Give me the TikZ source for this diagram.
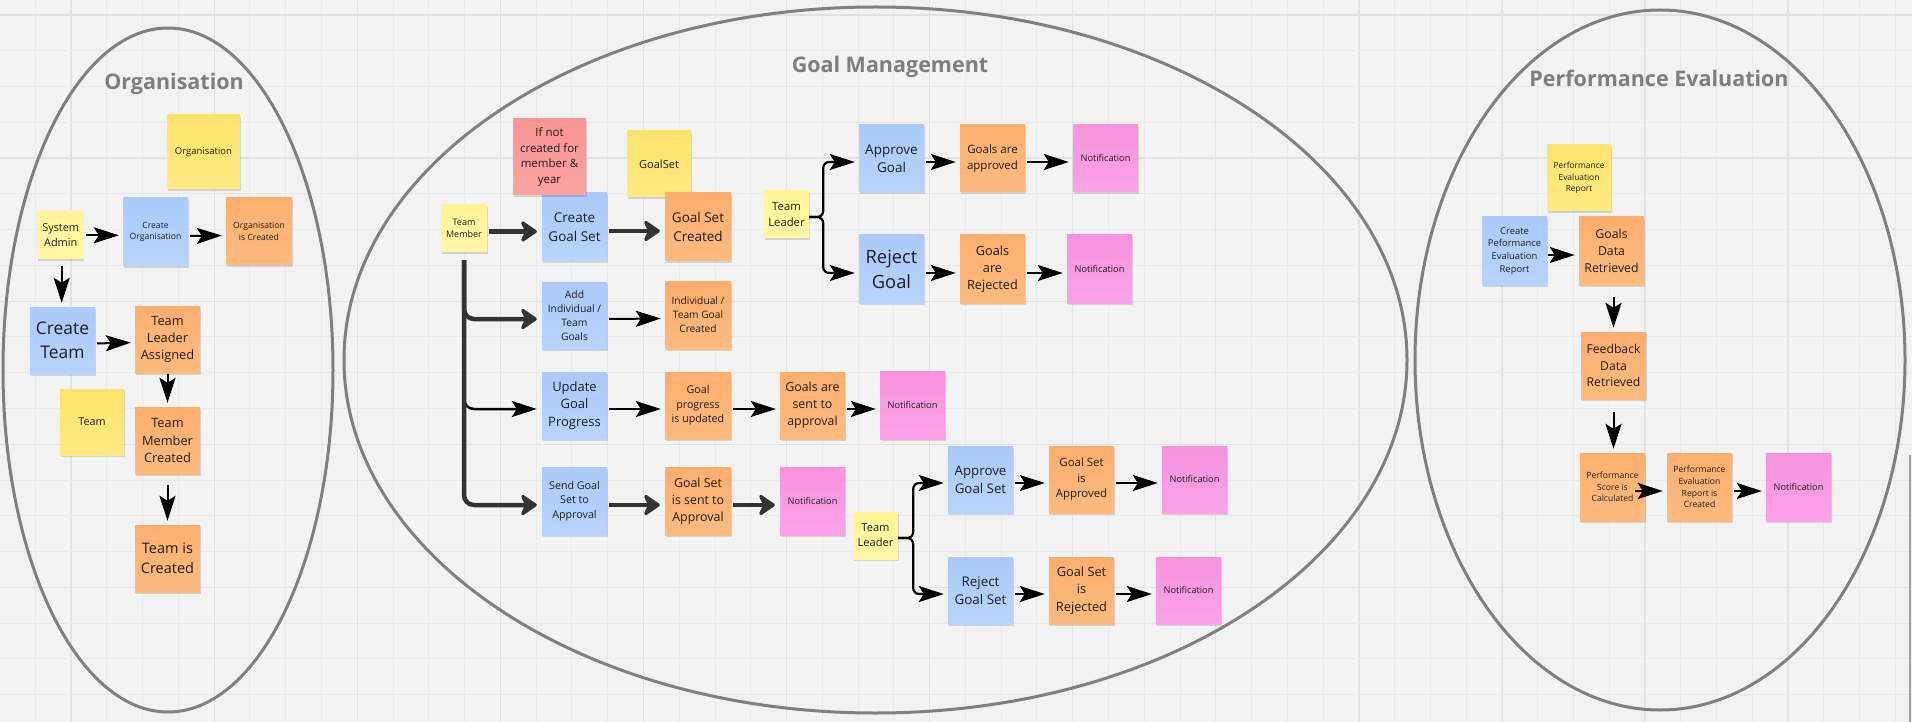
\documentclass[tikz,border=0pt]{standalone}
\usepackage{fontspec}
\setmainfont{Open Sans}
\usetikzlibrary{arrows.meta,shadows}
\definecolor{bg}{HTML}{F2F2F2}
\definecolor{gridminor}{HTML}{E9E9E9}
\definecolor{gridmajor}{HTML}{E1E1E1}
\definecolor{ellc}{HTML}{808080}
\definecolor{titlec}{HTML}{7E7E7E}
\definecolor{txt}{HTML}{1E1E1E}
\definecolor{dk}{HTML}{333333}
\definecolor{orT}{HTML}{FCAE6C}\definecolor{orB}{HTML}{FDBB7F}
\definecolor{blT}{HTML}{AACAFB}\definecolor{blB}{HTML}{B6D4FD}
\definecolor{yeT}{HTML}{FCE36B}\definecolor{yeB}{HTML}{FEEA82}
\definecolor{lyT}{HTML}{FFF395}\definecolor{lyB}{HTML}{FFF7A6}
\definecolor{piT}{HTML}{F792DE}\definecolor{piB}{HTML}{FBA3E8}
\definecolor{reT}{HTML}{F99494}\definecolor{reB}{HTML}{FBA2A2}
\newcommand{\fs}[1]{\fontsize{#1}{\fpeval{#1*1.36}}\selectfont}
\begin{document}
\begin{tikzpicture}[x=1pt,y=-1pt,
  sticky/.style={rectangle, inner sep=0pt, align=center, text=txt,
    minimum width=65, minimum height=67,
    drop shadow={shadow xshift=0.5pt, shadow yshift=-1.8pt, opacity=0.13, fill=black}},
  orbox/.style={sticky, top color=orT, bottom color=orB},
  blbox/.style={sticky, top color=blT, bottom color=blB},
  yebox/.style={sticky, top color=yeT, bottom color=yeB},
  lybox/.style={sticky, top color=lyT, bottom color=lyB, minimum width=46, minimum height=47},
  pibox/.style={sticky, top color=piT, bottom color=piB, font=\fs{9.2}},
  rebox/.style={sticky, top color=reT, bottom color=reB},
  title/.style={anchor=base, text=titlec, font=\fontsize{21.5}{26}\selectfont\bfseries},
  ell/.style={draw=ellc, line width=3pt},
  arr/.style={draw=black, line width=2pt, -{Stealth[length=25pt,width=16pt,inset=5pt]}, shorten <=2pt, shorten >=4pt},
  tarr/.style={draw=dk, line width=4.5pt, -{Stealth[length=19pt,width=26pt,inset=6pt,round]}, shorten <=2pt, shorten >=5pt},
  brace/.style={arr, line width=2.2pt, rounded corners=6pt, shorten <=0pt}
]
\useasboundingbox (0,0) rectangle (1912,722);
\fill[bg] (0,0) rectangle (1912,722);
% grid
\foreach \k in {1,...,53} \draw[gridminor, line width=1pt] ({35.77*\k-0.4},0) -- ({35.77*\k-0.4},722);
\foreach \k in {2,6,...,50} \draw[gridmajor, line width=1.3pt] ({35.77*\k-0.4},0) -- ({35.77*\k-0.4},722);
\foreach \k in {0,...,19} \draw[gridminor, line width=1pt] (0,{15+35.77*\k}) -- (1912,{15+35.77*\k});
\foreach \k in {0,4,...,16} \draw[gridmajor, line width=1.3pt] (0,{15+35.77*\k}) -- (1912,{15+35.77*\k});
\draw[draw=gray!75, line width=2pt] (1910,455) -- (1910,722);

% group ellipses
\draw[ell] (168,370) ellipse [x radius=165, y radius=342];
\draw[ell] (875.5,360) ellipse [x radius=531.5, y radius=353];
\draw[ell] (1660,360) ellipse [x radius=245, y radius=350];
\node[title] (t1) at (174,90) {Organisation};
\node[title] (t2) at (890,73) {Goal Management};
\node[title] (t3) at (1659,87) {Performance Evaluation};

% ---------------- Organisation
\node[yebox, minimum width=73, minimum height=74, font=\fs{9.5}] (orgY) at (203.5,152) {Organisation};
\node[lybox, font=\fs{10.9}] (sysadm) at (60.7,235.3) {System\\Admin};
\node[blbox, minimum height=68, font=\fs{8.6}] (createorg) at (155.5,232) {Create\\Organisation};
\node[orbox, minimum width=66, font=\fs{8.6}] (orgcreated) at (259,231.5) {Organisation\\is Created};
\node[blbox, font=\fs{17.4}] (createteam) at (62.5,340.5) {Create\\Team};
\node[orbox, font=\fs{12.8}] (tla) at (167.5,339.5) {Team\\Leader\\Assigned};
\node[yebox, minimum width=64, minimum height=66, font=\fs{10.8}] (teamY) at (92,422) {Team};
\node[orbox, font=\fs{12.8}] (tmc) at (167.5,440.5) {Team\\Member\\Created};
\node[orbox, font=\fs{14.5}] (tic) at (167.5,558.5) {Team is\\Created};

% ---------------- Goal Management
\node[lybox, font=\fs{9}] (tm) at (464,228.5) {Team\\Member};
\node[blbox, minimum height=68, font=\fs{13.5}] (cgs) at (574.5,227) {Create\\Goal Set};
\node[rebox, minimum width=73, minimum height=76, font=\fs{11.5}] (redY) at (549.5,157) {If not\\created for\\member \&\\year};
\node[yebox, minimum width=64, minimum height=66, font=\fs{11.1}] (goalsetY) at (659,164) {GoalSet};
\node[orbox, minimum width=66, minimum height=68, font=\fs{13.5}] (gsc) at (698,227) {Goal Set\\Created};
\node[blbox, font=\fs{10.3}] (addg) at (574.5,315.5) {Add\\Individual /\\Team\\Goals};
\node[orbox, minimum width=66, minimum height=68, font=\fs{10.2}] (itgc) at (698,315) {Individual /\\Team Goal\\Created};
\node[blbox, font=\fs{13}] (ugp) at (574.5,405.5) {Update\\Goal\\Progress};
\node[orbox, minimum width=66, font=\fs{10.7}] (gpu) at (698,405.5) {Goal\\progress\\is updated};
\node[orbox, font=\fs{12.4}] (gsa) at (812.5,405.5) {Goals are\\sent to\\approval};
\node[pibox, minimum height=68] (n1) at (912.5,405) {Notification};
\node[blbox, minimum height=68, font=\fs{10.7}] (sgs) at (574.5,501) {Send Goal\\Set to\\Approval};
\node[orbox, minimum width=66, minimum height=68, font=\fs{12.4}] (gsst) at (698,501) {Goal Set\\is sent to\\Approval};
\node[pibox, minimum height=68] (n2) at (812.5,501) {Notification};

\node[lybox, minimum width=45, font=\fs{11.3}] (tl1) at (786.5,214.5) {Team\\Leader};
\node[blbox, font=\fs{13.5}] (ag) at (891.5,158.5) {Approve\\Goal};
\node[orbox, font=\fs{11.5}] (gaa) at (992.5,158.5) {Goals are\\approved};
\node[pibox] (n3) at (1105.5,158.5) {Notification};
\node[blbox, minimum height=68, font=\fs{18.3}] (rg) at (891.5,269) {Reject\\Goal};
\node[orbox, minimum height=68, font=\fs{12.7}] (gar) at (992.5,269) {Goals\\are\\Rejected};
\node[pibox, minimum height=68] (n4) at (1099.5,269) {Notification};

\node[lybox, minimum width=45, font=\fs{11.1}] (tl2) at (875.5,535.5) {Team\\Leader};
\node[blbox, font=\fs{13.3}] (ags) at (980.5,479.5) {Approve\\Goal Set};
\node[orbox, font=\fs{11.4}] (gsap) at (1081.5,479.5) {Goal Set\\is\\Approved};
\node[pibox] (n5) at (1194.5,479.5) {Notification};
\node[blbox, font=\fs{13.4}] (rgs) at (980.5,590.5) {Reject\\Goal Set};
\node[orbox, font=\fs{12.8}] (gsrj) at (1081.5,590.5) {Goal Set\\is\\Rejected};
\node[pibox] (n6) at (1188.5,590.5) {Notification};

% ---------------- Performance Evaluation
\node[yebox, minimum width=64, minimum height=66, font=\fs{8.4}] (perY) at (1579,178) {Performance\\Evaluation\\Report};
\node[blbox, minimum height=68, font=\fs{9.4}] (cper) at (1514.5,251) {Create\\Peformance\\Evaluation\\Report};
\node[orbox, minimum height=68, font=\fs{12.3}] (gdr) at (1611.5,251) {Goals\\Data\\Retrieved};
\node[orbox, font=\fs{12.2}] (fdr) at (1613.5,365.5) {Feedback\\Data\\Retrieved};
\node[orbox, minimum height=68, font=\fs{8.6}] (psc) at (1612.5,487) {Performance\\Score is\\Calculated};
\node[orbox, minimum height=68, font=\fs{8.6}] (perc) at (1699.5,487) {Performance\\Evaluation\\Report is\\Created};
\node[pibox, minimum height=68] (n7) at (1798.5,487) {Notification};

% ---------------- connectors: Organisation
\draw[arr] (sysadm.east) -- (sysadm.east -| createorg.west);
\draw[arr] ([yshift=-4]createorg.east) -- ([yshift=-4]orgcreated.west);
\draw[arr, shorten <=7pt] ([xshift=1]sysadm.south) -- ([xshift=1]sysadm.south |- createteam.north);
\draw[arr] ([yshift=-3]createteam.east) -- ([yshift=-3]tla.west);
\draw[arr, shorten <=1pt] (tla.south) -- (tmc.north);
\draw[arr, shorten <=11pt] (tmc.south) -- (tic.north);

% ---------------- connectors: Goal Management
\coordinate (tmb) at ([yshift=-8]tm.south);
\draw[draw=black, line width=2.5pt, rounded corners=10pt, -{Stealth[length=25pt,width=16pt,inset=5pt]}, shorten >=5pt] (tmb) |- ([yshift=-3.5]ugp.west);
\draw[tarr, rounded corners=10pt, shorten <=0pt] (tmb) |- ([yshift=-3.5]addg.west);
\draw[tarr, rounded corners=10pt, shorten <=0pt] (tmb) |- ([yshift=-4]sgs.west);
\draw[tarr] ([yshift=-3]tm.east) -- ([yshift=-3]tm.east -| cgs.west);
\draw[tarr] ([yshift=-4]cgs.east) -- ([yshift=-4]gsc.west);
\draw[arr] ([yshift=-3.5]addg.east) -- ([yshift=-3.5]itgc.west);
\draw[arr] ([yshift=-3.5]ugp.east) -- ([yshift=-3.5]gpu.west);
\draw[arr] ([yshift=-3.5]gpu.east) -- ([yshift=-3.5]gsa.west);
\draw[arr] ([yshift=-3.5]gsa.east) -- ([yshift=-3.5]gsa.east -| n1.west);
\draw[tarr] ([yshift=-4]sgs.east) -- ([yshift=-4]gsst.west);
\draw[tarr] ([yshift=-4]gsst.east) -- ([yshift=-4]n2.west);

\draw[brace] ([yshift=-2.5]tl1.east) -| ([xshift=14,yshift=-3.5]tl1.east |- ag.west) -- ([yshift=-3.5]ag.west);
\draw[brace] ([yshift=-2.5]tl1.east) -| ([xshift=14,yshift=-4]tl1.east |- rg.west) -- ([yshift=-4]rg.west);
\draw[arr] ([yshift=-3.5]ag.east) -- ([yshift=-3.5]gaa.west);
\draw[arr] ([yshift=-3.5]gaa.east) -- ([yshift=-3.5]n3.west);
\draw[arr] ([yshift=-4]rg.east) -- ([yshift=-4]gar.west);
\draw[arr] ([yshift=-4]gar.east) -- ([yshift=-4]n4.west);

\draw[brace] ([yshift=-2.5]tl2.east) -| ([xshift=15,yshift=-3.5]tl2.east |- ags.west) -- ([yshift=-3.5]ags.west);
\draw[brace] ([yshift=-2.5]tl2.east) -| ([xshift=15,yshift=-3.5]tl2.east |- rgs.west) -- ([yshift=-3.5]rgs.west);
\draw[arr] ([yshift=-3.5]ags.east) -- ([yshift=-3.5]gsap.west);
\draw[arr] ([yshift=-3.5]gsap.east) -- ([yshift=-3.5]n5.west);
\draw[arr] ([yshift=-3.5]rgs.east) -- ([yshift=-3.5]gsrj.west);
\draw[arr] ([yshift=-3.5]gsrj.east) -- ([yshift=-3.5]n6.west);

% ---------------- connectors: Performance Evaluation
\draw[arr, shorten <=1pt] ([yshift=-4]cper.east) -- ([yshift=-4]gdr.west);
\draw[arr, shorten <=12pt] (fdr.north |- gdr.south) -- (fdr.north);
\draw[arr, shorten <=13pt] (fdr.south) -- (fdr.south |- psc.north);
\draw[arr, shorten <=0pt] ([xshift=-10,yshift=-4]psc.east) -- ([yshift=-4]perc.west);
\draw[arr] ([yshift=-4]perc.east) -- ([yshift=-4]n7.west);
\end{tikzpicture}
\end{document}
